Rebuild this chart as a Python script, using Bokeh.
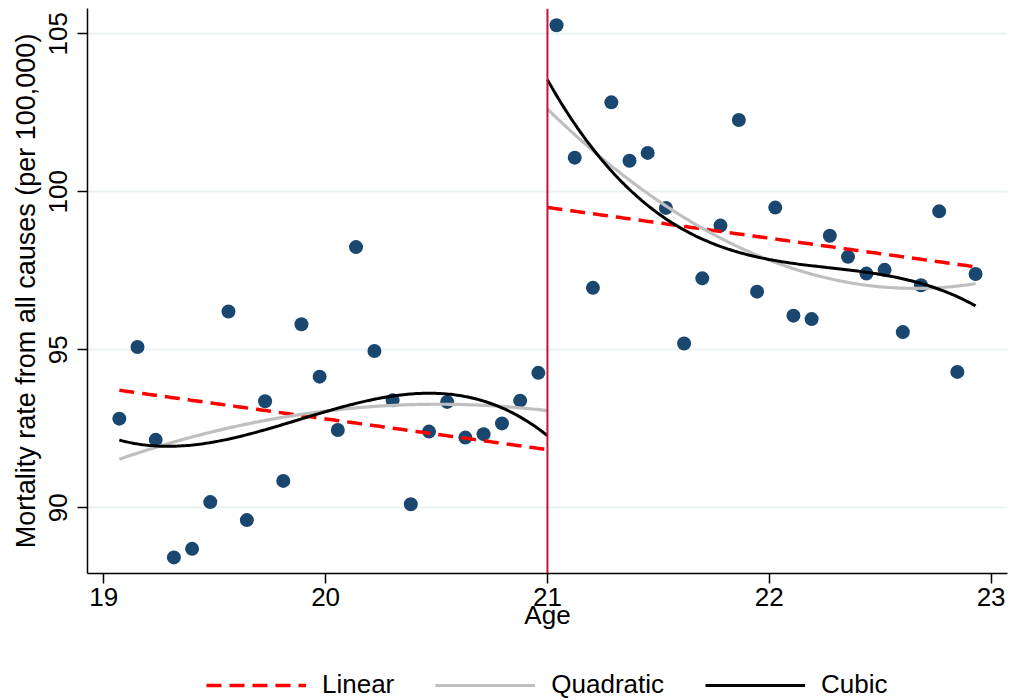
import numpy as np
from bokeh.plotting import figure
from bokeh.layouts import column
from bokeh.models import Range1d, FixedTicker, Legend, LegendItem, Span
from bokeh.embed import file_html
from bokeh.resources import INLINE

# ---- data ----
age_left = [19.070, 19.152, 19.234, 19.316, 19.398, 19.480, 19.562, 19.645,
            19.727, 19.809, 19.891, 19.973, 20.055, 20.137, 20.220, 20.302,
            20.384, 20.466, 20.548, 20.630, 20.712, 20.795, 20.877, 20.959]
rate_left = [92.82, 95.09, 92.15, 88.43, 88.70, 90.18, 96.21, 89.61,
             93.37, 90.85, 95.81, 94.15, 92.46, 98.25, 94.96, 93.40,
             90.11, 92.41, 93.35, 92.22, 92.33, 92.67, 93.39, 94.27]
age_right = [21.041, 21.123, 21.205, 21.288, 21.370, 21.452, 21.534, 21.616,
             21.698, 21.780, 21.863, 21.945, 22.027, 22.109, 22.191, 22.273,
             22.355, 22.438, 22.520, 22.602, 22.684, 22.766, 22.848, 22.930]
rate_right = [105.27, 101.08, 96.96, 102.83, 100.98, 101.23, 99.49, 95.20,
              97.26, 98.93, 102.27, 96.84, 99.50, 96.08, 95.97, 98.61,
              97.94, 97.41, 97.53, 95.56, 97.04, 99.38, 94.30, 97.40]
cutoff = 21
x_ticks = [19, 20, 21, 22, 23]
y_ticks = [90, 95, 100, 105]
legend_labels = ["Linear", "Quadratic", "Cubic"]

FONT = "Liberation Sans"

p = figure(width=1011, height=650, output_backend="svg", toolbar_location=None,
           x_range=Range1d(18.9265, 23.074), y_range=Range1d(87.92, 105.80),
           min_border_left=87, min_border_right=4, min_border_top=8,
           min_border_bottom=77)
p.outline_line_color = None
p.background_fill_color = "white"
p.border_fill_color = "white"

# axes
for ax in (p.xaxis[0], p.yaxis[0]):
    ax.axis_line_color = "black"
    ax.axis_line_width = 1.5
    ax.major_tick_line_color = "black"
    ax.major_tick_line_width = 1.5
    ax.major_tick_out = 10
    ax.major_tick_in = 0
    ax.minor_tick_line_color = None
    ax.major_label_text_font = FONT
    ax.major_label_text_font_size = "26px"
    ax.major_label_text_color = "black"
    ax.axis_label_text_font = FONT
    ax.axis_label_text_font_style = "normal"
    ax.axis_label_text_color = "black"

p.xaxis.ticker = FixedTicker(ticks=x_ticks)
p.yaxis.ticker = FixedTicker(ticks=y_ticks)
p.xaxis.axis_label = "Age"
p.yaxis.axis_label = "Mortality rate from all causes (per 100,000)"
p.xaxis.axis_label_text_font_size = "26px"
p.yaxis.axis_label_text_font_size = "27px"
p.xaxis.major_label_standoff = 4
p.xaxis.axis_label_standoff = -9
p.yaxis.major_label_orientation = "vertical"
p.yaxis.major_label_standoff = 10
p.yaxis.axis_label_standoff = 6

p.xgrid.grid_line_color = None
p.ygrid.grid_line_color = "#eaf2f3"
p.ygrid.grid_line_width = 2

# points
p.scatter(age_left, rate_left, size=14, fill_color="#1a476f", line_color=None)
p.scatter(age_right, rate_right, size=14, fill_color="#1a476f", line_color=None)

styles = [
    dict(line_color="#ff0000", line_width=3.5, line_dash="15 8"),
    dict(line_color="#bfbfbf", line_width=3.2),
    dict(line_color="black", line_width=3),
]

xl = np.array(age_left) - cutoff
xr = np.array(age_right) - cutoff
yl = np.array(rate_left)
yr = np.array(rate_right)
grid_l = np.linspace(min(age_left), cutoff, 200)
grid_r = np.linspace(cutoff, max(age_right), 200)

# Linear: common slope with a jump at the cutoff
X = np.column_stack([np.ones(len(xl) + len(xr)),
                     np.r_[np.zeros(len(xl)), np.ones(len(xr))],
                     np.r_[xl, xr]])
b = np.linalg.lstsq(X, np.r_[yl, yr], rcond=None)[0]
p.line(grid_l, b[0] + b[2] * (grid_l - cutoff), **styles[0])
p.line(grid_r, b[0] + b[1] + b[2] * (grid_r - cutoff), **styles[0])

# Quadratic and cubic: separate polynomials on each side
for deg, st in ((2, styles[1]), (3, styles[2])):
    cl = np.polyfit(xl, yl, deg)
    cr = np.polyfit(xr, yr, deg)
    p.line(grid_l, np.polyval(cl, grid_l - cutoff), **st)
    p.line(grid_r, np.polyval(cr, grid_r - cutoff), **st)

p.add_layout(Span(location=cutoff, dimension="height", line_color="#c8103c",
                  line_width=2))

# ---- legend strip below the chart ----
pl = figure(width=1011, height=50, output_backend="svg", toolbar_location=None,
            x_range=Range1d(0, 1), y_range=Range1d(0, 1),
            x_axis_type=None, y_axis_type=None,
            min_border_left=0, min_border_right=0, min_border_top=0,
            min_border_bottom=0)
pl.outline_line_color = None
pl.xgrid.grid_line_color = None
pl.ygrid.grid_line_color = None
items = []
for lab, st in zip(legend_labels, styles):
    r = pl.line([np.nan, np.nan], [np.nan, np.nan], **st)
    items.append(LegendItem(label=lab, renderers=[r]))
legend = Legend(items=items, orientation="horizontal", location=(119, 0),
                glyph_width=100, glyph_height=20, label_standoff=16, spacing=41,
                padding=0, margin=0, border_line_color=None,
                background_fill_alpha=0, label_text_font=FONT,
                label_text_font_size="26px", label_text_color="black")
pl.add_layout(legend, "center")

layout = column(p, pl, spacing=0)
open("out.html", "w").write(file_html(layout, INLINE))
